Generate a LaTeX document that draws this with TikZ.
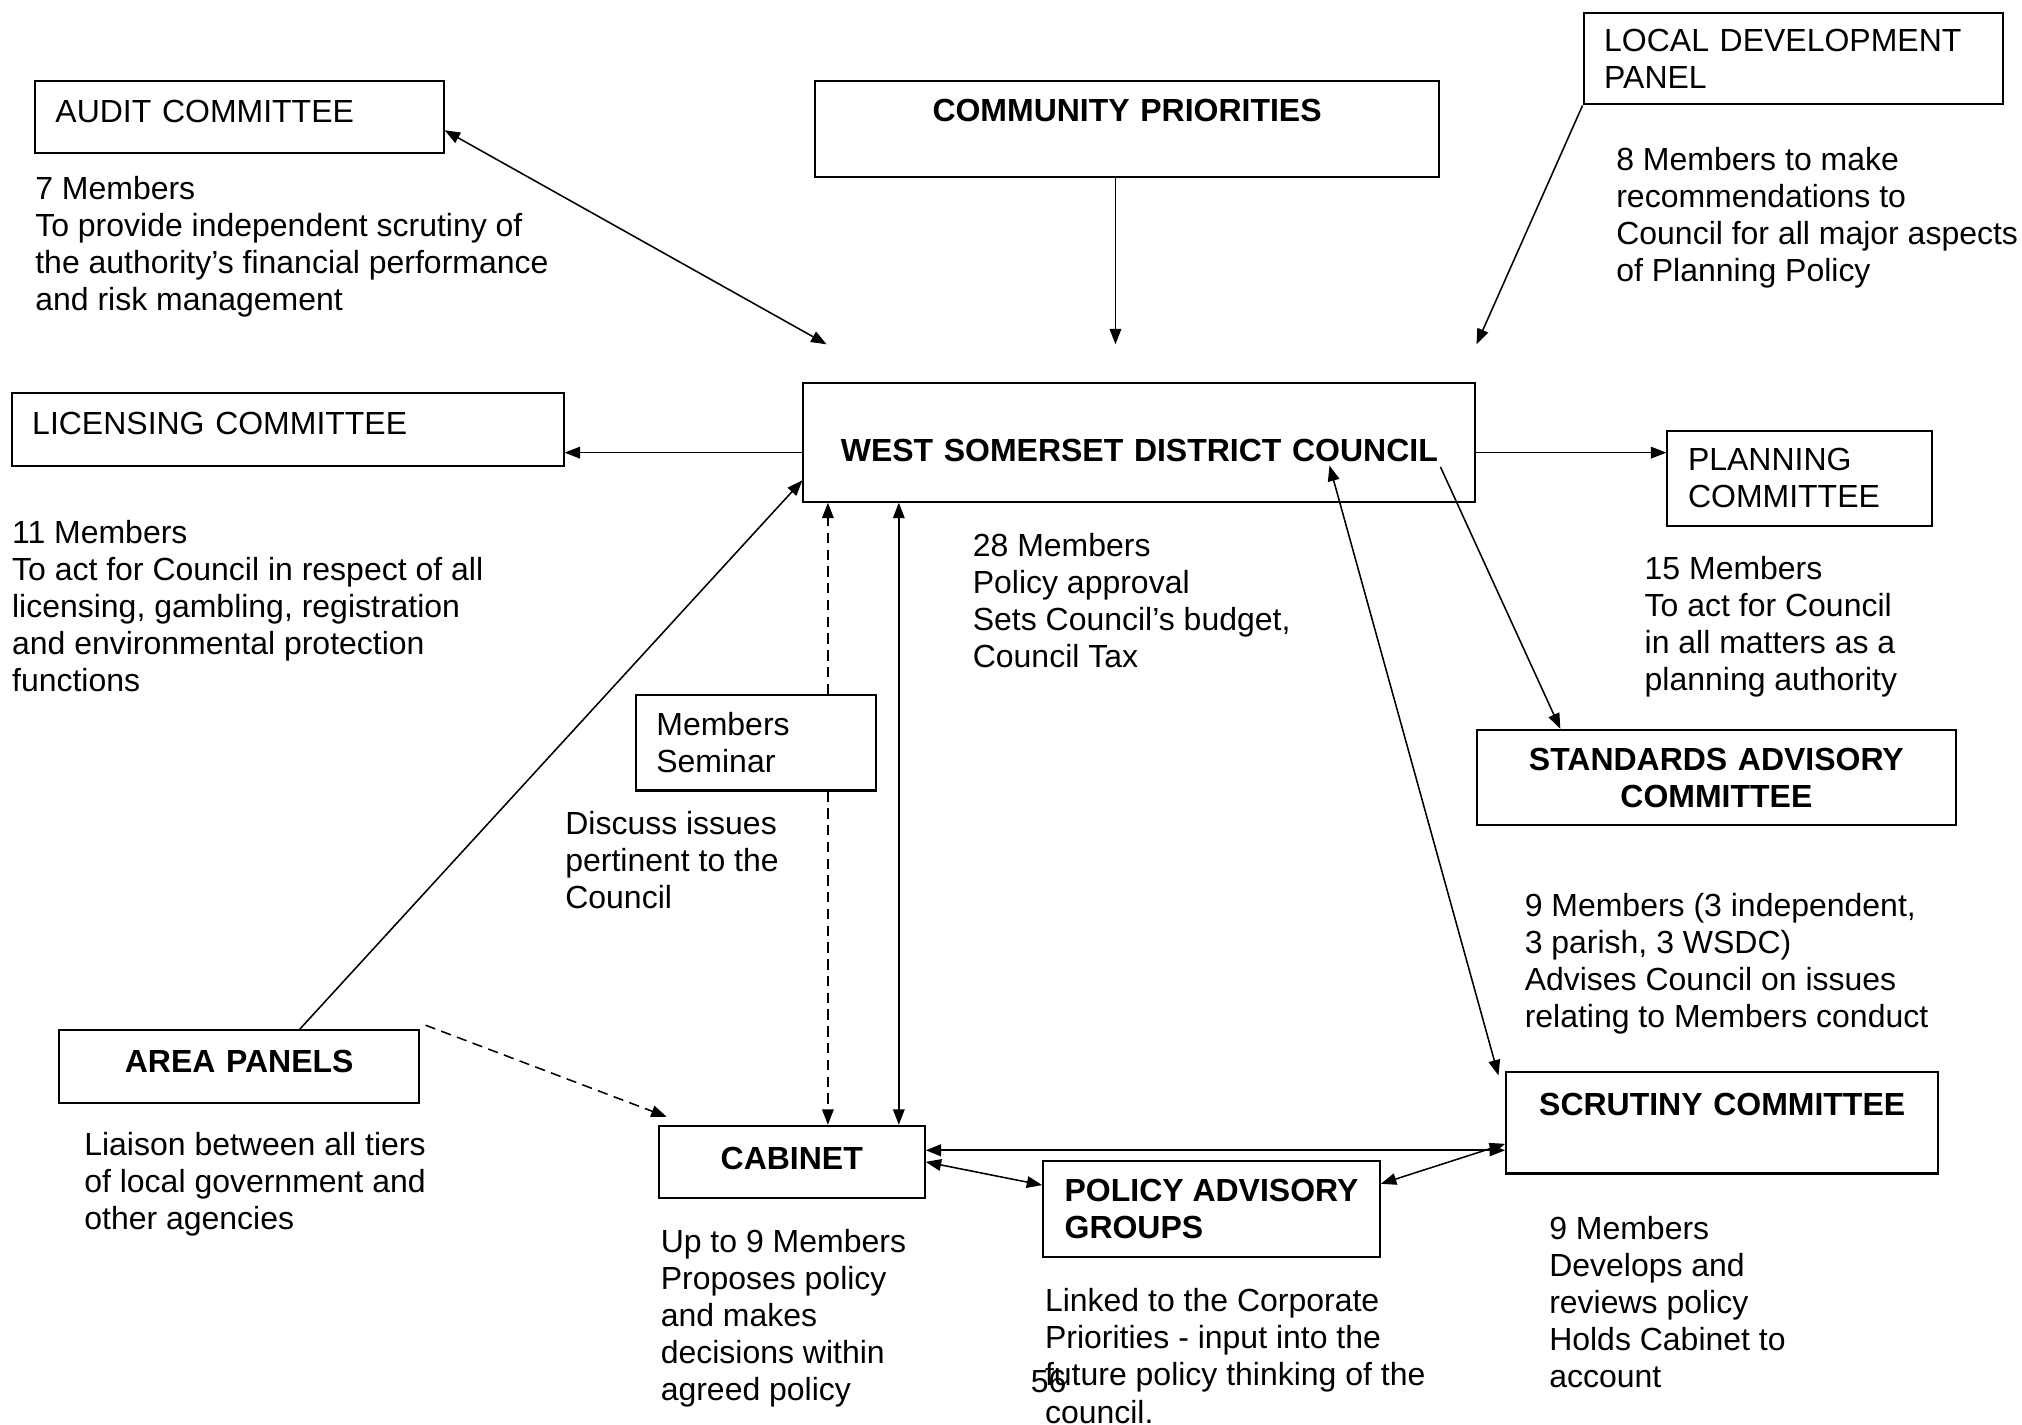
\documentclass[tikz,border=0pt]{standalone}
\usepackage{fontspec}
\setmainfont{Liberation Sans}
\usetikzlibrary{arrows.meta,calc}
\newcommand\txtfont{\fontsize{12.4}{14.35}\selectfont}
\tikzset{
  box/.style={draw,line width=0.8pt,inner xsep=8pt,inner ysep=0pt,align=left,font=\txtfont},
  bbox/.style={box,align=center,font=\txtfont\bfseries},
  note/.style={anchor=north west,inner sep=0pt,align=left,font=\txtfont},
  arr/.style={line width=0.6pt,-{Triangle[length=6pt,width=4.5pt]}},
  both/.style={line width=0.6pt,{Triangle[length=6pt,width=4.5pt]}-{Triangle[length=6pt,width=4.5pt]}},
  dsh/.style={dash pattern=on 4pt off 2.5pt}
}
\begin{document}
\begin{tikzpicture}[x=0.5pt,y=-0.5pt]
  \useasboundingbox (0,0) rectangle (1568,1105);
  % boxes
  \node[box,text width=142.5pt,minimum height=28pt,text depth=5pt] (audit) at (185.5,91) {AUDIT COMMITTEE};
  \node[bbox,text width=226pt,minimum height=37pt] (community) at (874,100) {COMMUNITY PRIORITIES\\ \mbox{}};
  \node[box,text width=146.5pt,minimum height=35.5pt] (ldp) at (1390.5,45.5) {LOCAL DEVELOPMENT\\PANEL};
  \node[box,text width=198pt,minimum height=28pt,text depth=5pt] (licensing) at (223,333) {LICENSING COMMITTEE};
  \node[bbox,text width=244.5pt,minimum height=46pt,text height=15pt] (wsdc) at (883.5,343) {WEST SOMERSET DISTRICT COUNCIL};
  \node[box,text width=86.5pt,minimum height=37pt] (planning) at (1395.5,371) {PLANNING\\COMMITTEE};
  \node[bbox,text width=170pt,minimum height=37pt] (standards) at (1331,603) {STANDARDS ADVISORY\\COMMITTEE};
  \node[box,text width=77pt,minimum height=37pt] (seminar) at (586,576) {Members\\Seminar};
  \node[bbox,text width=123.5pt,minimum height=28pt,text depth=4pt] (area) at (185.5,827) {AREA PANELS};
  \node[bbox,text width=87pt,minimum height=28pt,text depth=3pt] (cabinet) at (614,901) {CABINET};
  \node[draw,line width=0.8pt,inner ysep=0pt,align=left,font=\txtfont\bfseries,minimum width=130.5pt,minimum height=37.5pt] (policy) at (939.5,937.5) {POLICY ADVISORY\\GROUPS};
  \node[bbox,text width=151.5pt,minimum height=39.5pt] (scrutiny) at (1335.5,870.5) {SCRUTINY COMMITTEE\\ \mbox{}};
  % notes
  \node[note] (audittxt) at (27,136) {7 Members\\To provide independent scrutiny of\\the authority’s financial performance\\and risk management};
  \node[note] (ldptxt) at (1253,114) {8 Members to make\\recommendations to\\Council for all major aspects\\of Planning Policy};
  \node[note] (lictxt) at (9,403) {11 Members\\To act for Council in respect of all\\licensing, gambling, registration\\and environmental protection\\functions};
  \node[note] (wsdctxt) at (754,413) {28 Members\\Policy approval\\Sets Council’s budget,\\Council Tax};
  \node[note] (plantxt) at (1275,431) {15 Members\\To act for Council\\in all matters as a\\planning authority};
  \node[note] (stdtxt) at (1182,692) {9 Members (3 independent,\\3 parish, 3 WSDC)\\Advises Council on issues\\relating to Members conduct};
  \node[note] (semtxt) at (438,629) {Discuss issues\\pertinent to the\\Council};
  \node[note] (areatxt) at (65,878) {Liaison between all tiers\\of local government and\\other agencies};
  \node[note] (cabtxt) at (512,953) {Up to 9 Members\\Proposes policy\\and makes\\decisions within\\agreed policy};
  \node[note] (poltxt) at (810,999) {Linked to the Corporate\\Priorities - input into the\\future policy thinking of the\\council.};
  \node[note] (scrtxt) at (1201,943) {9 Members\\Develops and\\reviews policy\\Holds Cabinet to\\account};
  \node[anchor=west,inner sep=0pt,font=\txtfont] (pageno) at (799,1071) {56};
  % free ends
  \coordinate (auditend) at (641,267);
  \coordinate (commend) at (865,267);
  \coordinate (ldpend) at (1145,267);
  \coordinate (areastart) at (330,795);
  \coordinate (areaend) at (517,866);
  \coordinate (wsdcscr) at (1031,361);
  \coordinate (wsdcstd) at (1117,362);
  \coordinate (scrtop) at (1162,834);
  % connectors
  \draw[both] ([yshift=-5pt]audit.east) -- (auditend);
  \draw[arr] (865,0 |- community.south) -- (commend);
  \draw[arr] (ldp.south west) -- (ldpend);
  \draw[arr] (0,351 -| wsdc.west) -- (0,351 -| licensing.east);
  \draw[arr] (0,351 -| wsdc.east) -- (0,351 -| planning.west);
  \draw[arr] ($(area.north west)!0.667!(area.north east)$) -- ($(wsdc.north west)!0.815!(wsdc.south west)$);
  \draw[arr,dsh] (642,0 |- seminar.north) -- (642,0 |- wsdc.south);
  \draw[arr,dsh] (642,0 |- seminar.south) -- (642,0 |- cabinet.north);
  \draw[both] (697,0 |- wsdc.south) -- (697,0 |- cabinet.north);
  \draw[arr,dsh] (areastart) -- (areaend);
  \draw[both] (wsdcscr) -- (scrtop);
  \draw[arr] (wsdcstd) -- (1210,0 |- standards.north);
  \draw[both,line width=0.8pt] (0,892 -| cabinet.east) -- (0,892 -| scrutiny.west);
  \draw[both] (0,901 -| cabinet.east) -- (0,919 -| policy.west);
  \draw[both] (0,918 -| policy.east) -- (0,887 -| scrutiny.west);
\end{tikzpicture}
\end{document}
